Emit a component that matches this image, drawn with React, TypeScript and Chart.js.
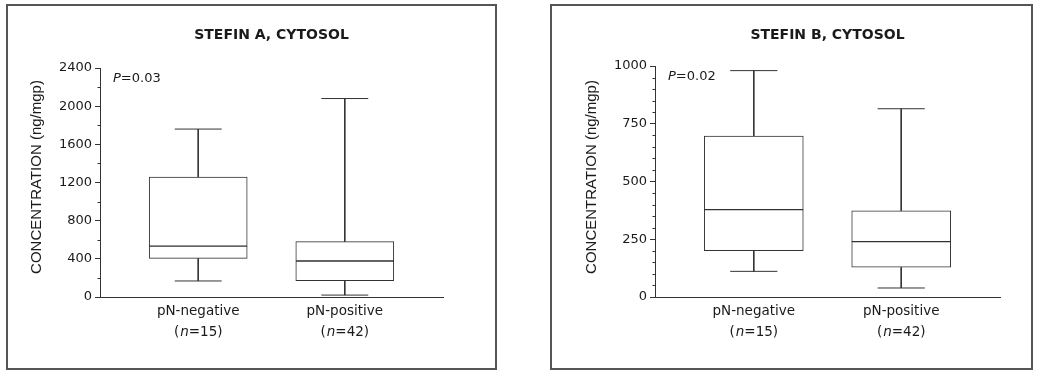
import React, { useEffect, useRef } from "react";
import { Chart, registerables } from "chart.js";

Chart.register(...registerables);

// ---- data ----
const categories = ["pN-negative", "pN-positive"];
const groupN = ["15", "42"];

const stefinATitle = "STEFIN A, CYTOSOL";
const stefinAP = "0.03";
const stefinAMin = [168, 20];
const stefinAQ1 = [405, 171];
const stefinAMedian = [534, 377];
const stefinAQ3 = [1258, 580];
const stefinAMax = [1760, 2080];
const stefinAYTicks = [0, 400, 800, 1200, 1600, 2000, 2400];
const stefinAMinorStep = 200;

const stefinBTitle = "STEFIN B, CYTOSOL";
const stefinBP = "0.02";
const stefinBMin = [111, 39];
const stefinBQ1 = [201, 129];
const stefinBMedian = [378, 240];
const stefinBQ3 = [697, 373];
const stefinBMax = [980, 815];
const stefinBYTicks = [0, 250, 500, 750, 1000];
const stefinBMinorStep = 50;

const yAxisTitle = "CONCENTRATION (ng/mgp)";

const LINE = "#333";
const FONT = "'DejaVu Sans', sans-serif";

type PanelProps = {
  title: string;
  pValue: string;
  mins: number[];
  q1s: number[];
  medians: number[];
  q3s: number[];
  maxs: number[];
  yTicks: number[];
  minorStep: number;
  frame: { left: number; top: number; width: number; height: number };
  area: { left: number; top: number; right: number; bottom: number };
  boxWidth: number;
};

function Panel(props: PanelProps) {
  const ref = useRef<HTMLCanvasElement | null>(null);
  useEffect(() => {
    const { frame, area } = props;
    const cap = 0.16;
    const whiskers = categories.map((_, i) => [
      { x: i - cap, y: props.maxs[i] },
      { x: i + cap, y: props.maxs[i] },
      { x: i, y: null },
      { x: i, y: props.maxs[i] },
      { x: i, y: props.q3s[i] },
      { x: i, y: null },
      { x: i, y: props.q1s[i] },
      { x: i, y: props.mins[i] },
      { x: i, y: null },
      { x: i - cap, y: props.mins[i] },
      { x: i + cap, y: props.mins[i] },
    ]);
    const yMax = props.yTicks[props.yTicks.length - 1];
    const yMin = props.yTicks[0];

    const textPlugin = {
      id: "panelText",
      afterDraw(chart: any) {
        const ctx = chart.ctx as CanvasRenderingContext2D;
        const ca = chart.chartArea;
        const xs = chart.scales.x;
        const ys = chart.scales.y;
        ctx.save();
        // minor ticks
        ctx.strokeStyle = LINE;
        ctx.lineWidth = 1;
        for (let v = yMin + props.minorStep; v < yMax; v += props.minorStep) {
          if (props.yTicks.includes(v)) continue;
          const py = Math.round(ys.getPixelForValue(v)) + 0.5;
          ctx.beginPath();
          ctx.moveTo(ca.left - 2.5, py);
          ctx.lineTo(ca.left, py);
          ctx.stroke();
        }
        ctx.fillStyle = "#1a1a1a";
        // title
        ctx.font = `bold 14px ${FONT}`;
        ctx.textAlign = "center";
        ctx.textBaseline = "middle";
        ctx.fillText(props.title, (ca.left + ca.right) / 2, 31);
        // P value
        ctx.textAlign = "left";
        ctx.font = `italic 13px ${FONT}`;
        const px = ca.left + 13;
        const pyy = ca.top + 11;
        ctx.fillText("P", px, pyy);
        const pw = ctx.measureText("P").width;
        ctx.font = `13px ${FONT}`;
        ctx.fillText("=" + props.pValue, px + pw, pyy);
        // y axis title
        ctx.save();
        ctx.translate(ca.left - 63, 173);
        ctx.rotate(-Math.PI / 2);
        ctx.textAlign = "center";
        ctx.font = `15px 'Liberation Sans', Arial, sans-serif`;
        ctx.fillText(yAxisTitle, 0, 0);
        ctx.restore();
        // category labels
        categories.forEach((c, i) => {
          const cx = xs.getPixelForValue(i);
          ctx.font = `13.5px ${FONT}`;
          ctx.textAlign = "center";
          ctx.fillText(c, cx, 307);
          const a = "(";
          const b = "n";
          const d = "=" + groupN[i] + ")";
          ctx.font = `13.5px ${FONT}`;
          const wa = ctx.measureText(a).width + 1;
          const wd = ctx.measureText(d).width;
          ctx.font = `italic 13.5px ${FONT}`;
          const wb = ctx.measureText(b).width;
          let sx = cx - (wa + wb + wd) / 2;
          ctx.textAlign = "left";
          ctx.font = `13.5px ${FONT}`;
          ctx.fillText(a, sx, 328);
          sx += wa;
          ctx.font = `italic 13.5px ${FONT}`;
          ctx.fillText(b, sx, 328);
          sx += wb;
          ctx.font = `13.5px ${FONT}`;
          ctx.fillText(d, sx, 328);
        });
        ctx.restore();
      },
    };

    const datasets: any[] = [
      {
        type: "bar",
        label: "lower box",
        data: categories.map((_, i) => ({ x: i, y: [props.q1s[i], props.medians[i]] })),
        backgroundColor: "#ffffff",
        borderColor: LINE,
        borderWidth: 1,
        borderSkipped: false,
        barThickness: props.boxWidth,
        grouped: false,
        order: 1,
      },
      {
        type: "bar",
        label: "upper box",
        data: categories.map((_, i) => ({ x: i, y: [props.medians[i], props.q3s[i]] })),
        backgroundColor: "#ffffff",
        borderColor: LINE,
        borderWidth: 1,
        borderSkipped: false,
        barThickness: props.boxWidth,
        grouped: false,
        order: 1,
      },
      ...whiskers.map((w, i) => ({
        type: "line",
        label: "whisker " + categories[i],
        data: w,
        borderColor: LINE,
        borderWidth: 1,
        pointRadius: 0,
        spanGaps: false,
        fill: false,
        order: 2,
      })),
    ];

    const chart = new Chart(ref.current as HTMLCanvasElement, {
      type: "bar",
      data: { datasets },
      options: {
        animation: false,
        responsive: false,
        maintainAspectRatio: false,
        events: [],
        layout: {
          padding: { left: 0, top: area.top, right: frame.width - area.right, bottom: 0 },
        },
        plugins: { legend: { display: false }, tooltip: { enabled: false } },
        scales: {
          x: {
            type: "linear",
            min: -0.67,
            max: 1.67,
            offset: false,
            grid: { display: false },
            border: { display: true, color: LINE, width: 1 },
            ticks: { display: false },
            afterFit(scale: any) {
              scale.height = frame.height - area.bottom;
            },
          },
          y: {
            type: "linear",
            min: yMin,
            max: yMax,
            grid: {
              display: true,
              drawOnChartArea: false,
              drawTicks: true,
              tickLength: 5,
              color: LINE,
            },
            border: { display: true, color: LINE, width: 1 },
            ticks: {
              padding: 3,
              color: "#1a1a1a",
              font: { family: "DejaVu Sans", size: 13 },
              callback: (v: any) => String(v),
            },
            afterBuildTicks(scale: any) {
              scale.ticks = props.yTicks.map((v) => ({ value: v }));
            },
            afterFit(scale: any) {
              scale.width = area.left;
            },
          },
        },
      } as any,
      plugins: [textPlugin],
    });
    return () => chart.destroy();
  }, []);

  const { frame } = props;
  return (
    <>
      <canvas
        ref={ref}
        width={frame.width}
        height={frame.height}
        style={{
          position: "absolute",
          left: frame.left,
          top: frame.top,
          width: frame.width,
          height: frame.height,
        }}
      />
      <div
        style={{
          position: "absolute",
          left: frame.left,
          top: frame.top,
          width: frame.width,
          height: frame.height,
          border: "2px solid #555",
          boxSizing: "border-box",
          pointerEvents: "none",
        }}
      />
    </>
  );
}

export default function App() {
  return (
    <div
      style={{
        position: "fixed",
        left: 0,
        top: 0,
        width: 1039,
        height: 371,
        background: "#ffffff",
        overflow: "hidden",
      }}
    >
      <Panel
        title={stefinATitle}
        pValue={stefinAP}
        mins={stefinAMin}
        q1s={stefinAQ1}
        medians={stefinAMedian}
        q3s={stefinAQ3}
        maxs={stefinAMax}
        yTicks={stefinAYTicks}
        minorStep={stefinAMinorStep}
        frame={{ left: 6, top: 4, width: 491, height: 366 }}
        area={{ left: 94, top: 64, right: 437, bottom: 293 }}
        boxWidth={98}
      />
      <Panel
        title={stefinBTitle}
        pValue={stefinBP}
        mins={stefinBMin}
        q1s={stefinBQ1}
        medians={stefinBMedian}
        q3s={stefinBQ3}
        maxs={stefinBMax}
        yTicks={stefinBYTicks}
        minorStep={stefinBMinorStep}
        frame={{ left: 550, top: 4, width: 483, height: 366 }}
        area={{ left: 105, top: 62, right: 450, bottom: 293 }}
        boxWidth={99}
      />
    </div>
  );
}
